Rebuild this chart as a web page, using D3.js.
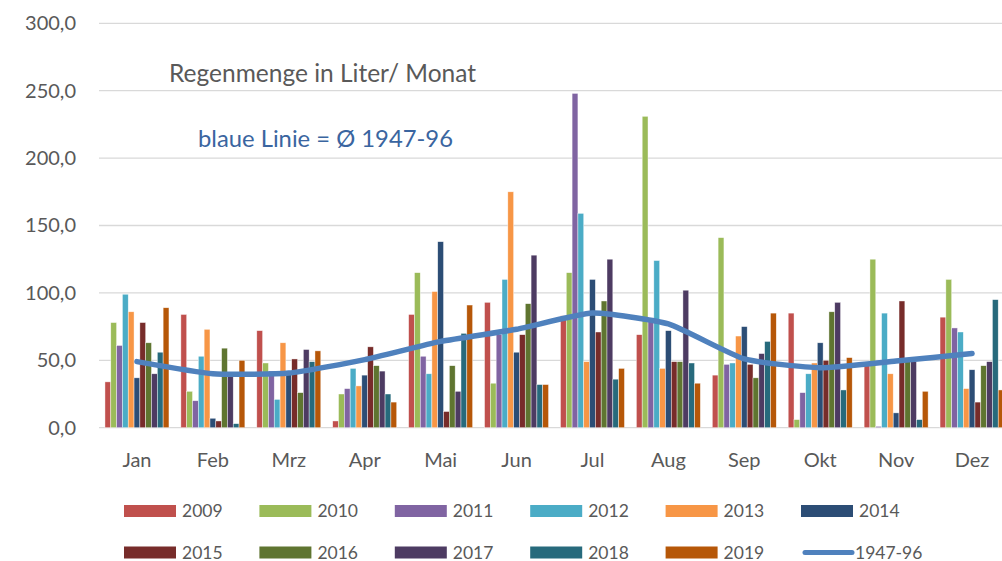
<!DOCTYPE html>
<html>
<head>
<meta charset="utf-8">
<script src="https://cdn.jsdelivr.net/npm/d3@7"></script>
<style>
  body { margin: 0; background: #fff; }
  svg { display: block; font-family: Lato, "Open Sans", sans-serif; }
</style>
</head>
<body>
<svg id="chart" width="1002" height="561"></svg>
<script>
// months on the x axis
const months = ["Jan", "Feb", "Mrz", "Apr", "Mai", "Jun", "Jul", "Aug", "Sep", "Okt", "Nov", "Dez"];
const years = ["2009", "2010", "2011", "2012", "2013", "2014", "2015", "2016", "2017", "2018", "2019"];
const colors = ["#C0504D", "#9BBB59", "#8064A2", "#4BACC6", "#F79646", "#2C4D75",
                "#772C2A", "#5F7530", "#4D3B62", "#276A7C", "#B65708"];

// rain per month, one array per month, values in the order of years
const jan = [34, 78, 61, 99, 86, 37, 78, 63, 40, 56, 89];
const feb = [84, 27, 20, 53, 73, 7, 5, 59, 38, 3, 50];
const mrz = [72, 48, 42, 21, 63, 40, 51, 26, 58, 49, 57];
const apr = [5, 25, 29, 44, 31, 39, 60, 46, 42, 25, 19];
const mai = [84, 115, 53, 40, 101, 138, 12, 46, 27, 70, 91];
const jun = [93, 33, 69, 110, 175, 56, 69, 92, 128, 32, 32];
const jul = [83, 115, 248, 159, 49, 110, 71, 94, 125, 36, 44];
const aug = [69, 231, 80, 124, 44, 72, 49, 49, 102, 48, 33];
const sep = [39, 141, 47, 48, 68, 75, 47, 37, 55, 64, 85];
const okt = [85, 6, 26, 40, 48, 63, 50, 86, 93, 28, 52];
const nov = [48, 125, 1, 85, 40, 11, 94, 51, 49, 6, 27];
const dez = [82, 110, 74, 71, 29, 43, 19, 46, 49, 95, 28];
const monthValues = [jan, feb, mrz, apr, mai, jun, jul, aug, sep, okt, nov, dez];

// long term average 1947-96
const average = [49, 40, 40.5, 50.5, 64, 73, 85, 77, 51, 44.5, 49.5, 55];

const yTicks = [0, 50, 100, 150, 200, 250, 300];

const svg = d3.select("#chart");
const plotLeft = 99, plotRight = 1010, plotTop = 23.3, plotBottom = 427.7;
const textColor = "#595959";

const x0 = d3.scaleBand().domain(months).range([plotLeft, plotRight])
    .paddingInner(0.157).paddingOuter(0.0785);
const x1 = d3.scaleBand().domain(years).range([0, x0.bandwidth()]);
const y = d3.scaleLinear().domain([0, 300]).range([plotBottom, plotTop]);
const fmt = d => d3.format(".1f")(d).replace(".", ",");

// gridlines
svg.append("g").selectAll("line").data(yTicks).enter().append("line")
    .attr("x1", plotLeft).attr("x2", 1002)
    .attr("y1", d => y(d)).attr("y2", d => y(d))
    .attr("stroke", "#d9d9d9").attr("stroke-width", 1.3);

// y axis labels
const yAxis = svg.append("g").attr("transform", `translate(${plotLeft},0)`)
    .call(d3.axisLeft(y).tickValues(yTicks).tickFormat(fmt).tickSize(0).tickPadding(23));
yAxis.select(".domain").remove();
yAxis.selectAll("text").attr("fill", textColor).attr("font-size", 20)
    .attr("font-family", "Lato, 'Open Sans', sans-serif");

// bars
const groups = svg.append("g").selectAll("g").data(months).enter().append("g")
    .attr("transform", d => `translate(${x0(d)},0)`);
groups.selectAll("rect").data((m, i) => monthValues[i].map((v, j) => ({year: years[j], v: v, c: colors[j]})))
    .enter().append("rect")
    .attr("x", d => x1(d.year))
    .attr("width", x1.bandwidth())
    .attr("y", d => y(d.v))
    .attr("height", d => y(0) - y(d.v))
    .attr("fill", d => d.c)
    .attr("stroke", "#fff").attr("stroke-width", 0.6).attr("stroke-opacity", 0.7);

// x axis labels
const xAxis = svg.append("g").attr("transform", `translate(0,${plotBottom})`)
    .call(d3.axisBottom(x0).tickSize(0).tickPadding(25));
xAxis.select(".domain").remove();
xAxis.selectAll("text").attr("fill", textColor).attr("font-size", 20)
    .attr("font-family", "Lato, 'Open Sans', sans-serif");

// average line
const line = d3.line()
    .x((d, i) => x0(months[i]) + x0.bandwidth() / 2)
    .y(d => y(d))
    .curve(d3.curveCardinal.tension(0.5));
svg.append("path").datum(average)
    .attr("d", line)
    .attr("fill", "none").attr("stroke", "#4F81BD")
    .attr("stroke-width", 5.5).attr("stroke-linecap", "round");

// titles
svg.append("text").attr("x", 169).attr("y", 82)
    .attr("fill", textColor).attr("font-size", 24.5)
    .text("Regenmenge in Liter/ Monat");
svg.append("text").attr("x", 198).attr("y", 147)
    .attr("fill", "#3A65A0").attr("font-size", 23.8)
    .text("blaue Linie = Ø 1947-96");

// legend
const legend = years.map((yr, i) => ({label: yr, color: colors[i], type: "bar"}));
legend.push({label: "1947-96", color: "#4F81BD", type: "line"});
const lg = svg.append("g").selectAll("g").data(legend).enter().append("g")
    .attr("transform", (d, i) => `translate(${124 + (i % 6) * 135.4},${i < 6 ? 511 : 552.5})`);
lg.filter(d => d.type === "bar").append("rect")
    .attr("x", 0).attr("y", -6).attr("width", 52).attr("height", 12)
    .attr("fill", d => d.color);
lg.filter(d => d.type === "line").append("line")
    .attr("x1", 4).attr("x2", 51).attr("y1", 0).attr("y2", 0)
    .attr("stroke", d => d.color).attr("stroke-width", 5).attr("stroke-linecap", "round");
lg.append("text")
    .attr("x", d => d.type === "bar" ? 58 : 54).attr("y", 6)
    .attr("fill", textColor).attr("font-size", 17.5)
    .text(d => d.label);
</script>
</body>
</html>
